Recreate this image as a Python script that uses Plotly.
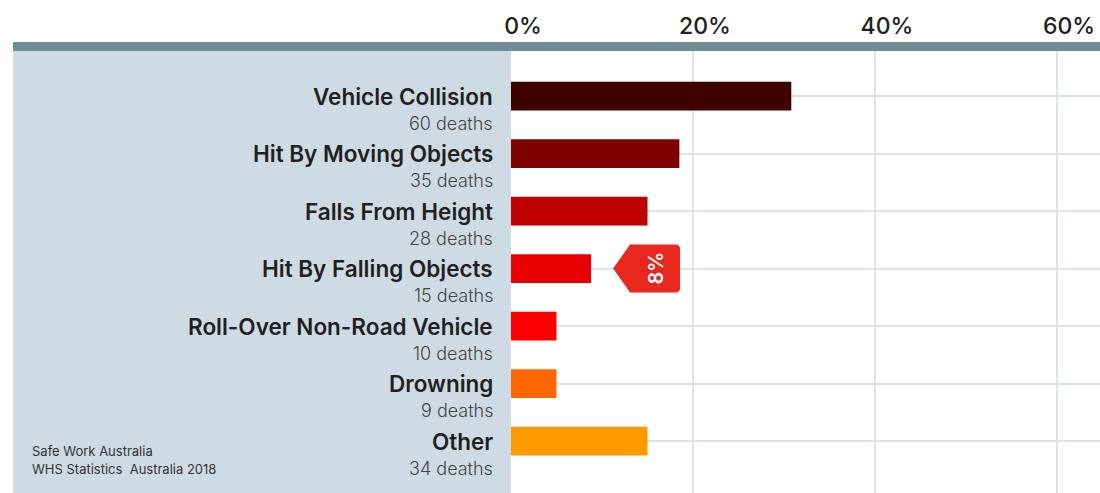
import plotly.graph_objects as go

categories = ["Vehicle Collision", "Hit By Moving Objects", "Falls From Height",
              "Hit By Falling Objects", "Roll-Over Non-Road Vehicle", "Drowning", "Other"]
deaths = [60, 35, 28, 15, 10, 9, 34]
share_pct = [30.8, 18.5, 15.0, 8.8, 5.0, 5.0, 15.0]
bar_colors = ["#3F0000", "#7F0000", "#BF0000", "#E60000", "#FF0000", "#FF6600", "#FF9900"]
tick_vals = [0, 20, 40, 60]
tick_text = ["0%", "20%", "40%", "60%"]
callout_index = 3
callout_text = "8%"
source_lines = ["Safe Work Australia", "WHS Statistics  Australia 2018"]

W, H = 1100, 493
L, T = 511, 51
plot_w = W - L
plot_h = H - T
px_per_pct = 9.1
x_max = plot_w / px_per_pct
row = 57.5
y_top = -(96 - T) / row
y_bot = 6 + (H - 441) / row

fig = go.Figure()
fig.add_trace(go.Bar(
    x=share_pct, y=categories, orientation="h",
    marker=dict(color=bar_colors, line=dict(width=0)),
    width=0.5, hoverinfo="skip", showlegend=False,
))

FONT = "Inter"
annotations = []
for i, (c, d) in enumerate(zip(categories, deaths)):
    annotations.append(dict(
        x=0, xref="paper", y=c, yref="y", xanchor="right", yanchor="middle",
        xshift=-16, text=c, showarrow=False,
        font=dict(family=FONT, size=22.5, color="#231F20", weight=600),
    ))
    annotations.append(dict(
        x=0, xref="paper", y=c, yref="y", xanchor="right", yanchor="middle",
        xshift=-16, yshift=-27, text=f"{d} deaths", showarrow=False,
        font=dict(family=FONT, size=18, color="#444444", weight=300),
    ))

annotations.append(dict(
    x=share_pct[callout_index], xref="x", y=categories[callout_index], yref="y",
    xanchor="center", yanchor="middle", xshift=64, text=callout_text,
    textangle=-90, showarrow=False,
    font=dict(family=FONT, size=20, color="#FFFFFF", weight=600),
))

for j, line in enumerate(source_lines):
    annotations.append(dict(
        x=(30 - L) / plot_w, xref="paper", y=(H - 451) / plot_h, yref="paper",
        xanchor="left", yanchor="middle", yshift=-18 * j, text=line, showarrow=False,
        font=dict(family=FONT, size=13, color="#333333", weight=400),
    ))

shapes = [
    dict(type="rect", xref="paper", yref="paper", x0=(13 - L) / plot_w, x1=0, y0=0, y1=1,
         fillcolor="#CFDBE4", line=dict(width=0), layer="below"),
    dict(type="rect", xref="paper", yref="paper", x0=(13 - L) / plot_w, x1=1,
         y0=1, y1=1 + 9 / plot_h, fillcolor="#718C99", line=dict(width=0), layer="above"),
    dict(type="path", xref="x", yref="y", xsizemode="pixel", ysizemode="pixel",
         xanchor=share_pct[callout_index], yanchor=categories[callout_index],
         path="M22,0 L39,24 L84,24 Q89,24 89,19 L89,-19 Q89,-24 84,-24 L39,-24 Z",
         fillcolor="#E8281E", line=dict(width=0), layer="above"),
]

fig.update_layout(
    width=W, height=H,
    margin=dict(l=L, r=0, t=T, b=0, pad=0),
    paper_bgcolor="#FFFFFF", plot_bgcolor="#FFFFFF",
    font=dict(family=FONT),
    shapes=shapes, annotations=annotations,
    bargap=0.5,
    xaxis=dict(
        range=[0, x_max], side="top", tickvals=tick_vals, ticktext=tick_text,
        showgrid=True, gridcolor="#DCE3EA", gridwidth=2, zeroline=False,
        showline=False, ticks="", ticklabelshift=12, ticklabelstandoff=11,
        tickfont=dict(family=FONT, size=23, color="#231F20", weight=500),
        fixedrange=True,
    ),
    yaxis=dict(
        range=[y_bot, y_top], showgrid=True, gridcolor="#DCE3EA", gridwidth=2,
        showticklabels=False, ticks="", zeroline=False, showline=False,
        fixedrange=True,
    ),
)

fig.write_html(
    "out.html",
    config={"displayModeBar": False},
    post_script="document.body.style.margin='0';document.body.style.overflow='hidden';",
)
